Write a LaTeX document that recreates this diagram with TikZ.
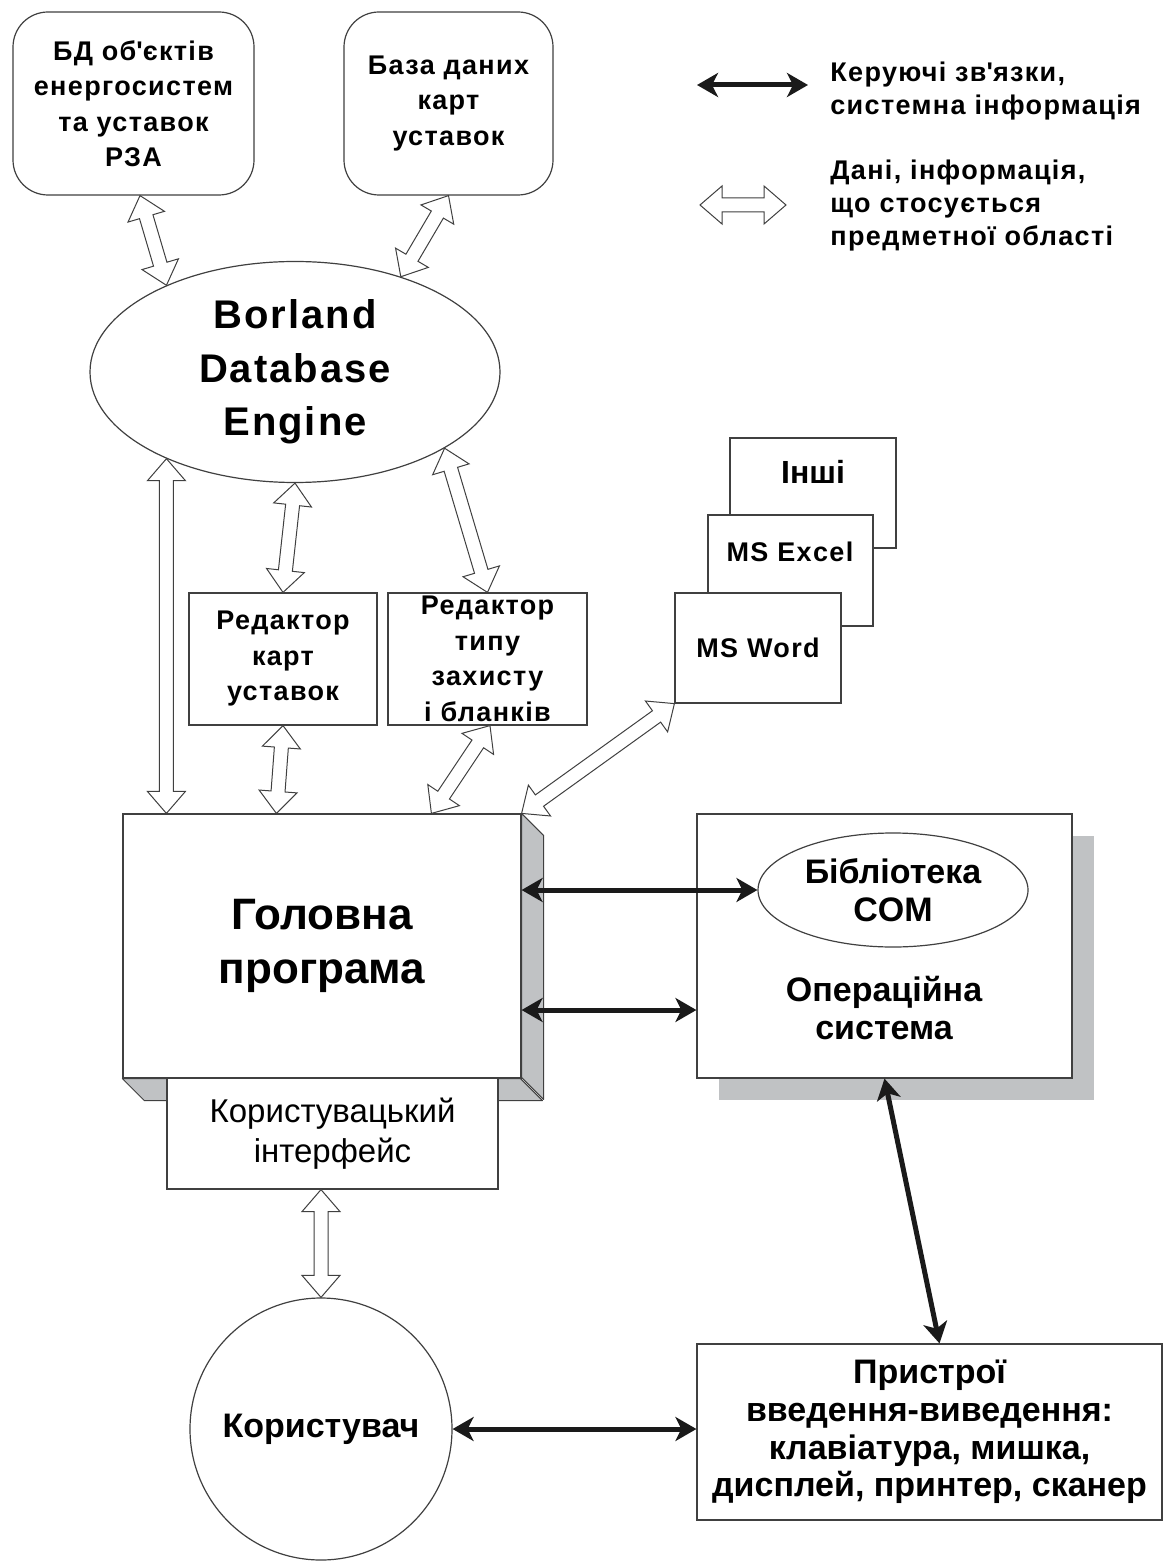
\documentclass[tikz,border=0pt]{standalone}
\usepackage{fontspec}
\setmainfont{Liberation Sans}
\newfontfamily\spacedsans{Liberation Sans}[LetterSpace=5]
\usetikzlibrary{calc,shapes.geometric,arrows.meta,shadows}
\definecolor{sidegray}{RGB}{192,194,196}
\definecolor{linegray}{RGB}{64,64,64}
\definecolor{ctrlblack}{RGB}{26,26,26}
\tikzset{
  box/.style={draw=linegray, line width=0.6pt, fill=white, inner sep=0pt, align=center},
  dbbox/.style={box, rounded corners=17.5pt},
  oval/.style={box, ellipse},
  txt/.style={font=\spacedsans\bfseries\fontsize{13.5}{17.75}\selectfont},
  lgtxt/.style={font=\spacedsans\bfseries\fontsize{13.5}{16.5}\selectfont, anchor=west, align=left, inner sep=0pt},
  bigtxt/.style={font=\bfseries\fontsize{17}{19}\selectfont, align=center},
  side/.style={draw=linegray, line width=0.5pt, fill=sidegray, line join=round},
  ctrl/.style={line width=2.5pt, draw=ctrlblack, <->,
    >={Stealth[length=10.5pt, width=12pt, inset=3pt]}},
  data/.style={draw=linegray, line width=0.5pt, fill=white, line join=miter}
}
\newcommand{\dataarrow}[2]{%
  \draw[data] (#1) -- ($(#1)!11pt!(#2)!9.5pt!90:(#2)$) -- ($(#1)!11pt!(#2)!3.5pt!90:(#2)$)
    -- ($(#2)!11pt!(#1)!3.5pt!-90:(#1)$) -- ($(#2)!11pt!(#1)!9.5pt!-90:(#1)$)
    -- (#2) -- ($(#2)!11pt!(#1)!9.5pt!90:(#1)$) -- ($(#2)!11pt!(#1)!3.5pt!90:(#1)$)
    -- ($(#1)!11pt!(#2)!3.5pt!-90:(#2)$) -- ($(#1)!11pt!(#2)!9.5pt!-90:(#2)$) -- cycle;
}
\begin{document}
\begin{tikzpicture}[x=0.5pt, y=-0.5pt]
  \useasboundingbox[fill=white] (0,0) rectangle (1174,1561);

  \node[dbbox, txt, minimum width=120.5pt, minimum height=91.5pt] (dbobj) at (133.5,103.5)
    {БД об\textquotesingle єктів\\енергосистем\\та уставок\\РЗА};
  \node[dbbox, txt, minimum width=104.5pt, minimum height=91.5pt] (dbmap) at (448.5,103.5)
    {База даних\\карт\\уставок};

  \coordinate (lgc1) at (697,85);
  \coordinate (lgc2) at (808,85);
  \draw[ctrl] (lgc1) -- (lgc2);
  \node[lgtxt] (lgctext) at (830,91) {Керуючі зв\textquotesingle язки,\\системна інформація};
  \coordinate (lgd1) at (700,205);
  \coordinate (lgd2) at (786,205);
  \dataarrow{lgd1}{lgd2}
  \node[lgtxt] (lgdtext) at (830,206) {Дані, інформація,\\що стосується\\предметної області};

  \node[oval, minimum width=205pt, minimum height=110.5pt,
    font=\spacedsans\bfseries\fontsize{20}{26.75}\selectfont] (bde) at (295,372)
    {Borland\\Database\\Engine};

  \node[box, txt, minimum width=94pt, minimum height=66pt] (edmap) at (283,659)
    {Редактор\\карт\\уставок};
  \node[box, txt, minimum width=99.5pt, minimum height=66pt] (edtype) at (487.5,659)
    {Редактор\\типу\\захисту\\і бланків};

  \node[box, minimum width=83pt, minimum height=55pt] (other) at (813,493) {};
  \node[font=\bfseries\fontsize{16}{19}\selectfont] (othertext) at (813,472) {Інші};
  \node[box, minimum width=82.5pt, minimum height=55.5pt] (excel) at (790.5,570.5) {};
  \node[txt] (exceltext) at (790,552) {MS Excel};
  \node[box, txt, minimum width=83pt, minimum height=55pt] (word) at (758,648) {MS Word};

  \node[box, minimum width=199pt, minimum height=132pt,
    font=\bfseries\fontsize{22}{27}\selectfont] (main) at (322,946) {Головна\\програма};
  \draw[side] (main.north east) -- ++(22,22) -- ++(0,264) -- ++(-22,-22) -- cycle;
  \draw[side] (main.south west) -- ++(22,22) -- ++(398,0) -- ++(-22,-22) -- cycle;
  \node[box, minimum width=165.5pt, minimum height=55.5pt,
    font=\fontsize{16.5}{20}\selectfont] (ui) at (332.5,1133.5) {Користувацький\\інтерфейс};

  \node[box, minimum width=187.5pt, minimum height=132pt,
    drop shadow={shadow xshift=11pt, shadow yshift=-11pt, fill=sidegray, opacity=1}] (os) at (884.5,946) {};
  \node[oval, bigtxt, minimum width=135pt, minimum height=57pt] (com) at (893,890) {Бібліотека\\COM};
  \node[bigtxt] (ostext) at (884,1008) {Операційна\\система};

  \node[box, bigtxt, minimum width=232.5pt, minimum height=88pt, font=\bfseries\fontsize{17}{18.9}\selectfont] (dev) at (929.5,1432)
    {Пристрої\\введення-виведення:\\клавіатура, мишка,\\дисплей, принтер, сканер};
  \node[box, circle, minimum size=131pt, font=\bfseries\fontsize{17}{20}\selectfont] (user) at (321,1429) {Користувач};

  \coordinate (a1s) at ($(dbobj.south)+(6.5,0)$);
  \coordinate (a1e) at (bde.146);
  \dataarrow{a1s}{a1e}
  \coordinate (a2s) at (dbmap.south);
  \coordinate (a2e) at (bde.42);
  \dataarrow{a2s}{a2e}
  \coordinate (a3s) at (bde.214);
  \coordinate (a3e) at ($(main.north west)+(44,0)$);
  \dataarrow{a3s}{a3e}
  \coordinate (a4s) at (bde.south);
  \coordinate (a4e) at (edmap.north);
  \dataarrow{a4s}{a4e}
  \coordinate (a5s) at (bde.-27.6);
  \coordinate (a5e) at (edtype.north);
  \dataarrow{a5s}{a5e}
  \coordinate (a6s) at (edmap.south);
  \coordinate (a6e) at ($(main.north west)+(154,0)$);
  \dataarrow{a6s}{a6e}
  \coordinate (a7s) at ($(edtype.south)+(2.5,0)$);
  \coordinate (a7e) at ($(main.north west)+(309,0)$);
  \dataarrow{a7s}{a7e}
  \coordinate (a8s) at (word.south west);
  \coordinate (a8e) at (main.north east);
  \dataarrow{a8s}{a8e}
  \coordinate (a9s) at (ui.south -| user.north);
  \coordinate (a9e) at (user.north);
  \dataarrow{a9s}{a9e}

  \draw[ctrl] (com.west -| main.east) -- (com.west);
  \coordinate (osin) at ($(os.west)+(0,64)$);
  \draw[ctrl] (osin -| main.east) -- (osin);
  \coordinate (devin) at ($(dev.north)+(10,0)$);
  \draw[ctrl] (os.south) -- (devin);
  \draw[ctrl] (user.east) -- (user.east -| dev.west);
\end{tikzpicture}
\end{document}
